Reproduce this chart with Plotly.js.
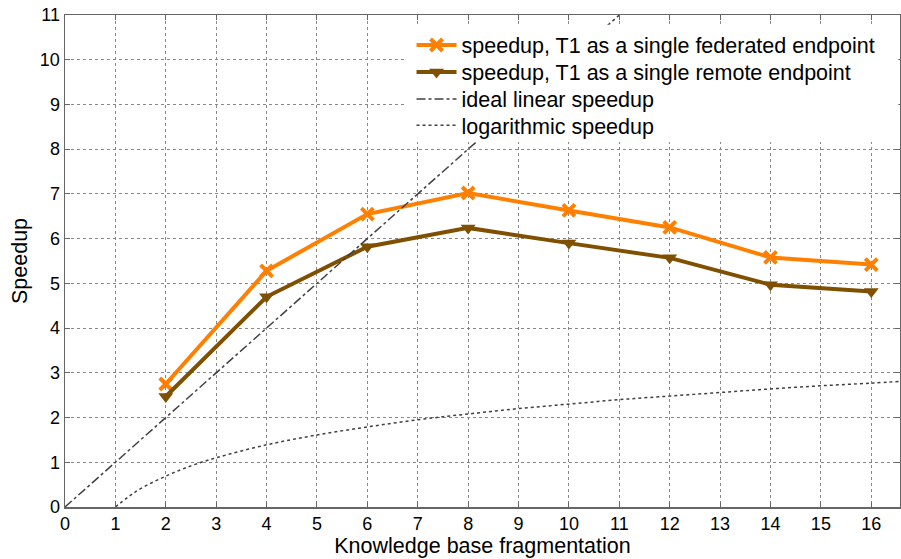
<!DOCTYPE html>
<html><head><meta charset="utf-8">
<script src="https://cdn.plot.ly/plotly-3.0.1.min.js"></script>
<style>body{margin:0;background:#fff}#chart{width:901px;height:559px}</style>
</head><body><div id="chart"></div>
<script>
const fragments = [2, 4, 6, 8, 10, 12, 14, 16];
const speedupFederated = [2.75, 5.28, 6.55, 7.02, 6.63, 6.25, 5.58, 5.42];
const speedupRemote = [2.47, 4.70, 5.82, 6.24, 5.90, 5.57, 4.97, 4.82];
const idealX = [0, 11];
const idealY = [0, 11];
const logX = [1, 1.25, 1.5, 2, 2.5, 3, 4, 5, 6, 7, 8, 9, 10, 11, 12, 13, 14, 15, 16, 16.6];
const logY = [0, 0.22, 0.41, 0.69, 0.92, 1.10, 1.39, 1.61, 1.79, 1.95, 2.08, 2.20, 2.30, 2.40, 2.48, 2.56, 2.64, 2.71, 2.77, 2.81];
const names = ['speedup, T1 as a single federated endpoint', 'speedup, T1 as a single remote endpoint', 'ideal linear speedup', 'logarithmic speedup'];

const traces = [
  {x: fragments, y: speedupFederated, name: names[0], mode: 'lines+markers', legend: 'legend',
   line: {color: '#FF8000', width: 4}, marker: {symbol: 'x-thin', size: 12, color: '#FF8000', line: {color: '#FF8000', width: 4}}},
  {x: fragments, y: speedupRemote, name: names[1], mode: 'lines+markers', legend: 'legend2',
   line: {color: '#7F5000', width: 4}, marker: {symbol: 'triangle-down', size: 13, color: '#7F5000'}},
  {x: idealX, y: idealY, name: names[2], mode: 'lines', legend: 'legend3', line: {color: '#404040', width: 1.5, dash: 'dashdot'}},
  {x: logX, y: logY, name: names[3], mode: 'lines', legend: 'legend4', line: {color: '#404040', width: 1.5, dash: 'dot', shape: 'spline'}}
];

const axisCommon = {
  showline: true, linecolor: '#666', linewidth: 1.5, mirror: 'ticks',
  ticks: 'inside', ticklen: 5, tickcolor: '#666',
  showgrid: true, gridcolor: '#888', griddash: 'dot', gridwidth: 1,
  zeroline: false, tickfont: {size: 18, color: '#000'}
};

function leg(y) {
  return {x: 0.415, y: y, xanchor: 'left', yanchor: 'middle', bgcolor: 'rgba(0,0,0,0)',
    font: {size: 21.5}, itemwidth: 40};
}

const layout = {
  width: 901, height: 559,
  margin: {l: 65, r: 1, t: 15, b: 52},
  font: {family: 'Liberation Sans, Arial, sans-serif', color: '#000'},
  paper_bgcolor: '#fff', plot_bgcolor: '#fff',
  xaxis: Object.assign({}, axisCommon, {range: [0, 16.57], dtick: 1, tick0: 0,
    title: {text: 'Knowledge base fragmentation', font: {size: 21.5}, standoff: 2}}),
  yaxis: Object.assign({}, axisCommon, {range: [0, 11], dtick: 1, tick0: 0,
    title: {text: 'Speedup', font: {size: 21.5}, standoff: 6}}),
  showlegend: true,
  legend: leg(0.939), legend2: leg(0.884), legend3: leg(0.829), legend4: leg(0.776),
  shapes: [{type: 'rect', xref: 'paper', yref: 'paper', x0: 0.407, x1: 0.998, y0: 0.742, y1: 0.98,
    fillcolor: '#fff', line: {width: 0}, layer: 'above'}]
};

Plotly.newPlot('chart', traces, layout, {displayModeBar: false, staticPlot: true});
</script></body></html>
